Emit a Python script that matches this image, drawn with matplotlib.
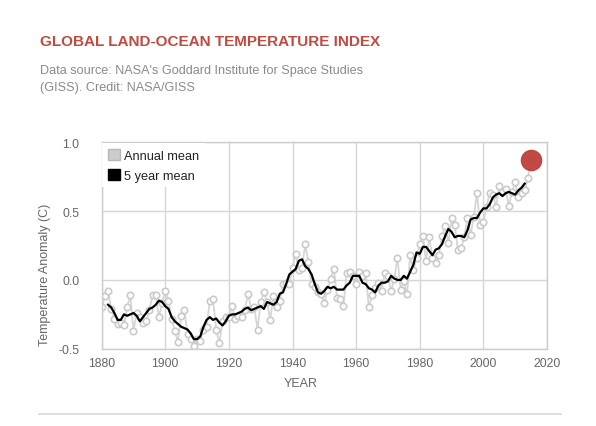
"""
GISS global land-ocean temperature index, annual mean and 5 year mean
"""

import numpy as np
import matplotlib
matplotlib.use('Agg')
import matplotlib.pyplot as plt
from matplotlib.patches import Patch
from matplotlib.lines import Line2D

plt.rcParams['font.family'] = 'Liberation Sans'

# annual mean anomaly (C), 1880-2015
years = np.arange(1880, 2016)
annual = [-0.20, -0.12, -0.08, -0.21, -0.28, -0.32, -0.31, -0.33, -0.20, -0.11,
          -0.37, -0.24, -0.27, -0.31, -0.30, -0.22, -0.11, -0.11, -0.27, -0.17,
          -0.08, -0.15, -0.28, -0.37, -0.45, -0.26, -0.22, -0.39, -0.43, -0.48,
          -0.43, -0.44, -0.36, -0.34, -0.15, -0.14, -0.36, -0.46, -0.30, -0.27,
          -0.27, -0.19, -0.28, -0.26, -0.27, -0.22, -0.10, -0.21, -0.20, -0.36,
          -0.16, -0.09, -0.16, -0.29, -0.12, -0.20, -0.15, -0.03, -0.02, -0.03,
          0.09, 0.19, 0.07, 0.09, 0.26, 0.13, -0.03, -0.05, -0.09, -0.10,
          -0.17, -0.07, 0.01, 0.08, -0.13, -0.14, -0.19, 0.05, 0.06, 0.03,
          -0.03, 0.06, 0.03, 0.05, -0.20, -0.11, -0.06, -0.02, -0.08, 0.05,
          0.03, -0.08, 0.01, 0.16, -0.07, -0.01, -0.10, 0.18, 0.07, 0.16,
          0.26, 0.32, 0.14, 0.31, 0.16, 0.12, 0.18, 0.32, 0.39, 0.27,
          0.45, 0.40, 0.22, 0.23, 0.31, 0.45, 0.33, 0.46, 0.63, 0.40,
          0.42, 0.53, 0.63, 0.62, 0.53, 0.68, 0.64, 0.66, 0.54, 0.64,
          0.71, 0.60, 0.63, 0.65, 0.74, 0.87]

# 5 year mean, 1882-2013
years5 = np.arange(1882, 2014)
mean5 = [-0.18, -0.20, -0.24, -0.29, -0.29, -0.25, -0.26, -0.25, -0.24, -0.26,
         -0.30, -0.27, -0.24, -0.21, -0.20, -0.18, -0.15, -0.16, -0.19, -0.21,
         -0.27, -0.30, -0.32, -0.34, -0.35, -0.36, -0.39, -0.43, -0.43, -0.41,
         -0.34, -0.29, -0.27, -0.29, -0.28, -0.31, -0.33, -0.30, -0.26, -0.25,
         -0.25, -0.24, -0.23, -0.21, -0.20, -0.22, -0.21, -0.20, -0.19, -0.21,
         -0.16, -0.17, -0.18, -0.16, -0.10, -0.09, -0.03, 0.04, 0.06, 0.08,
         0.14, 0.15, 0.10, 0.08, 0.04, -0.03, -0.09, -0.10, -0.08, -0.05,
         -0.06, -0.05, -0.07, -0.07, -0.07, -0.04, -0.02, 0.03, 0.03, 0.03,
         -0.02, -0.03, -0.06, -0.07, -0.09, -0.04, -0.02, -0.02, -0.01, 0.03,
         0.01, 0.00, 0.00, 0.03, 0.01, 0.06, 0.11, 0.20, 0.19, 0.24,
         0.24, 0.21, 0.18, 0.22, 0.23, 0.26, 0.32, 0.37, 0.35, 0.31,
         0.32, 0.32, 0.31, 0.36, 0.44, 0.45, 0.45, 0.49, 0.52, 0.52,
         0.55, 0.60, 0.62, 0.63, 0.61, 0.63, 0.64, 0.63, 0.62, 0.65,
         0.67, 0.70]

xticks = np.arange(1880, 2021, 20)
yticks = [-0.5, 0.0, 0.5, 1.0]

plt.close('all')
fig = plt.figure(figsize=(5.96, 4.27), dpi=100)
ax = fig.add_axes([0.1706, 0.1808, 0.7471, 0.4836])

grey = '#cacaca'
ax.plot(years, annual, color='#d6d6d6', lw=1.3, marker='o', ms=4.6,
        mfc='white', mec=grey, mew=1.2, zorder=2)
ax.plot(years5, mean5, color='black', lw=1.6, zorder=3)
ax.plot(years[-1], annual[-1], 'o', color='#bf3f3a', ms=14.5, alpha=0.95, zorder=4)

ax.set_xlim(1880, 2020)
ax.set_ylim(-0.5, 1.0)
ax.set_xticks(xticks)
ax.set_yticks(yticks)
ax.set_yticklabels(['%.1f' % v for v in yticks])
ax.grid(True, color='#d6d6d6', lw=1)
ax.set_axisbelow(True)
for sp in ax.spines.values():
    sp.set_color('#cccccc')
    sp.set_linewidth(1)
ax.tick_params(length=0, labelsize=8.8, labelcolor='#666666')
ax.tick_params(axis='y', pad=16)
ax.tick_params(axis='x', pad=6)

handles = [Patch(facecolor='#cccccc', edgecolor='#b8b8b8', label='Annual mean'),
           Patch(facecolor='black', edgecolor='black', label='5 year mean')]
leg = ax.legend(handles=handles, loc='upper left', fontsize=9.2,
                handlelength=0.95, handleheight=0.95, handletextpad=0.3,
                labelspacing=0.55, borderpad=0.45, borderaxespad=0.05,
                frameon=True, fancybox=False, facecolor='white', edgecolor='none',
                framealpha=1)
leg.set_zorder(5)
for t in leg.get_texts():
    t.set_color('#222222')

fig.text(45/596, 1-275/427, 'Temperature Anomaly (C)', rotation=90,
         ha='center', va='center', fontsize=9, color='#666666')
fig.text(301/596, 1-384/427, 'YEAR', ha='center', va='center',
         fontsize=9, color='#666666')

# heading
fig.text(40/596, 1-45.7/427, 'GLOBAL LAND-OCEAN TEMPERATURE INDEX',
         fontsize=11, fontweight='bold', color='#bf4a40', va='baseline')
fig.text(40/596, 1-74/427, "Data source: NASA's Goddard Institute for Space Studies",
         fontsize=9.1, color='#8a8a8a', va='baseline')
fig.text(40/596, 1-90.7/427, '(GISS). Credit: NASA/GISS',
         fontsize=9.1, color='#8a8a8a', va='baseline')

# bottom rule
fig.add_artist(Line2D([39/596, 561/596], [1-415/427, 1-415/427],
                      color='#dddddd', lw=1.3))

fig.savefig('out.png', dpi=100)
